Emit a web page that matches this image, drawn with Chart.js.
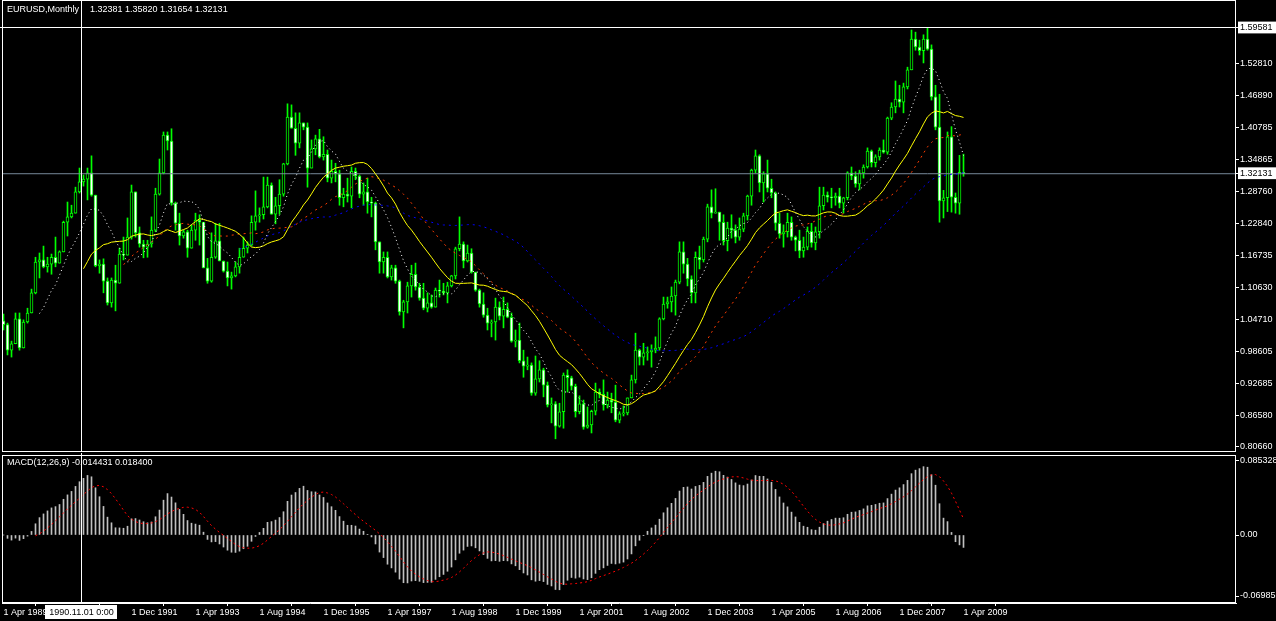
<!DOCTYPE html>
<html>
<head>
<meta charset="utf-8">
<title>EURUSD, Monthly</title>
<script src="https://cdn.jsdelivr.net/npm/chart.js@4/dist/chart.umd.min.js"></script>
<style>
  html, body { margin: 0; padding: 0; background: #000; }
  #wrap { position: relative; width: 1276px; height: 621px; overflow: hidden; background: #000; }
  #mainChart { position: absolute; left: 0; top: 0; }
  #macdChart { position: absolute; left: 0; top: 453px; }
  .txt { position: absolute; color: #fff; font: 9px 'Liberation Sans', Arial, sans-serif; line-height: 11px; white-space: pre; }
</style>
</head>
<body>
<div id="wrap">
  <canvas id="mainChart" width="1276" height="453"></canvas>
  <canvas id="macdChart" width="1276" height="168"></canvas>
  <div class="txt" style="left:7px;top:4px">EURUSD,Monthly</div>
  <div class="txt" style="left:90px;top:4px">1.32381 1.35820 1.31654 1.32131</div>
  <div class="txt" style="left:7px;top:457px">MACD(12,26,9) -0.014431 0.018400</div>
</div>

<script>
/* ---- DATA (monthly bars, 1 Apr 1989 .. 1 Apr 2009) ---- */
const open = [
  1.044,1.037,0.989,1.001,1.048,0.993,1.042,1.059,1.097,1.155,
  1.159,1.146,1.151,1.164,1.153,1.174,1.230,1.240,1.247,1.287,
  1.306,1.311,1.323,1.281,1.148,1.151,1.119,1.078,1.121,1.115,
  1.170,1.168,1.202,1.287,1.210,1.189,1.183,1.189,1.215,1.283,
  1.323,1.394,1.383,1.266,1.228,1.204,1.212,1.181,1.215,1.234,
  1.230,1.144,1.119,1.164,1.195,1.157,1.138,1.125,1.129,1.146,
  1.164,1.181,1.187,1.230,1.242,1.244,1.259,1.300,1.245,1.261,
  1.283,1.340,1.428,1.407,1.379,1.417,1.409,1.332,1.368,1.387,
  1.353,1.358,1.313,1.326,1.321,1.276,1.283,1.279,1.326,1.317,
  1.283,1.287,1.268,1.266,1.193,1.155,1.164,1.127,1.144,1.119,
  1.061,1.080,1.110,1.132,1.108,1.087,1.068,1.078,1.070,1.102,
  1.100,1.097,1.110,1.129,1.180,1.189,1.157,1.172,1.136,1.102,
  1.076,1.055,1.040,1.042,1.070,1.053,1.066,1.051,1.006,1.008,
  0.969,0.959,0.961,0.908,0.935,0.952,0.923,0.886,0.888,0.846,
  0.873,0.942,0.937,0.921,0.873,0.888,0.844,0.848,0.874,0.910,
  0.906,0.886,0.895,0.891,0.857,0.869,0.871,0.899,0.933,0.989,
  0.976,0.984,0.986,0.989,0.993,1.048,1.076,1.080,1.091,1.117,
  1.174,1.151,1.123,1.097,1.164,1.159,1.198,1.259,1.247,1.249,
  1.230,1.195,1.219,1.215,1.202,1.217,1.242,1.279,1.328,1.355,
  1.304,1.321,1.294,1.285,1.228,1.208,1.212,1.230,1.202,1.196,
  1.176,1.183,1.213,1.191,1.212,1.261,1.281,1.277,1.276,1.279,
  1.266,1.276,1.323,1.317,1.302,1.323,1.334,1.364,1.342,1.353,
  1.366,1.362,1.426,1.447,1.462,1.456,1.485,1.517,1.575,1.560,
  1.553,1.575,1.556,1.466,1.409,1.270,1.276,1.391,1.277,1.266,
  1.32381
];
const high = [
  1.057,1.040,1.006,1.059,1.059,1.046,1.068,1.104,1.164,1.172,
  1.185,1.164,1.170,1.202,1.176,1.232,1.268,1.262,1.296,1.332,
  1.319,1.332,1.355,1.281,1.159,1.161,1.125,1.125,1.149,1.181,
  1.202,1.238,1.300,1.287,1.221,1.196,1.196,1.240,1.294,1.349,
  1.400,1.400,1.406,1.268,1.247,1.215,1.215,1.225,1.247,1.244,
  1.230,1.162,1.210,1.228,1.228,1.157,1.155,1.136,1.155,1.181,
  1.202,1.193,1.242,1.289,1.257,1.315,1.315,1.304,1.277,1.310,
  1.341,1.453,1.451,1.436,1.436,1.417,1.417,1.385,1.394,1.405,
  1.391,1.366,1.347,1.341,1.328,1.294,1.313,1.334,1.332,1.319,
  1.304,1.313,1.277,1.268,1.193,1.174,1.174,1.149,1.149,1.121,
  1.083,1.117,1.149,1.153,1.115,1.115,1.097,1.093,1.106,1.121,
  1.115,1.117,1.130,1.183,1.240,1.193,1.187,1.180,1.136,1.104,
  1.097,1.068,1.046,1.087,1.080,1.089,1.078,1.059,1.027,1.040,
  0.989,0.976,0.965,0.978,0.969,0.955,0.929,0.899,0.892,0.889,
  0.946,0.952,0.940,0.925,0.903,0.895,0.882,0.876,0.927,0.916,
  0.933,0.910,0.908,0.923,0.873,0.884,0.899,0.942,1.021,0.991,
  1.002,0.995,0.999,1.014,1.050,1.089,1.089,1.108,1.121,1.193,
  1.193,1.162,1.129,1.174,1.185,1.202,1.264,1.291,1.293,1.247,
  1.244,1.230,1.244,1.225,1.238,1.247,1.281,1.330,1.366,1.357,
  1.325,1.347,1.311,1.287,1.247,1.225,1.247,1.240,1.204,1.215,
  1.202,1.221,1.228,1.221,1.296,1.296,1.287,1.294,1.285,1.294,
  1.277,1.325,1.334,1.325,1.328,1.338,1.370,1.366,1.357,1.370,
  1.385,1.428,1.455,1.496,1.488,1.492,1.522,1.592,1.588,1.573,
  1.583,1.59581,1.564,1.488,1.471,1.290,1.400,1.410,1.285,1.356,
  1.35820
];
const low = [
  1.027,0.980,0.976,1.002,0.989,0.993,1.040,1.059,1.095,1.125,
  1.144,1.136,1.132,1.146,1.153,1.174,1.204,1.238,1.249,1.285,
  1.298,1.272,1.279,1.146,1.134,1.097,1.074,1.070,1.063,1.115,
  1.159,1.168,1.198,1.202,1.183,1.163,1.164,1.183,1.212,1.281,
  1.321,1.366,1.262,1.215,1.187,1.200,1.164,1.181,1.196,1.187,
  1.144,1.115,1.117,1.162,1.157,1.136,1.110,1.104,1.127,1.134,
  1.164,1.172,1.185,1.215,1.230,1.236,1.257,1.245,1.227,1.245,
  1.279,1.338,1.407,1.356,1.370,1.404,1.296,1.332,1.357,1.351,
  1.347,1.306,1.304,1.306,1.262,1.259,1.268,1.257,1.310,1.276,
  1.262,1.247,1.240,1.178,1.134,1.134,1.125,1.121,1.115,1.055,
  1.031,1.059,1.089,1.102,1.083,1.065,1.061,1.068,1.070,1.089,
  1.093,1.078,1.108,1.123,1.176,1.144,1.155,1.134,1.100,1.070,
  1.051,1.027,1.014,1.008,1.046,1.031,1.050,1.004,0.995,0.965,
  0.938,0.952,0.904,0.904,0.929,0.901,0.882,0.852,0.822,0.844,
  0.842,0.910,0.914,0.863,0.869,0.840,0.842,0.833,0.867,0.899,
  0.876,0.880,0.871,0.854,0.852,0.865,0.867,0.899,0.927,0.961,
  0.961,0.970,0.957,0.984,0.989,1.046,1.068,1.061,1.055,1.114,
  1.134,1.110,1.078,1.078,1.142,1.155,1.193,1.238,1.247,1.196,
  1.187,1.176,1.200,1.191,1.196,1.212,1.234,1.262,1.323,1.287,
  1.268,1.287,1.276,1.215,1.200,1.183,1.202,1.196,1.176,1.163,
  1.164,1.178,1.183,1.178,1.200,1.253,1.268,1.257,1.262,1.257,
  1.247,1.272,1.310,1.296,1.291,1.313,1.332,1.334,1.334,1.347,
  1.360,1.358,1.423,1.436,1.447,1.436,1.481,1.517,1.554,1.545,
  1.530,1.554,1.460,1.404,1.230,1.238,1.250,1.249,1.247,1.245,
  1.31654
];
const close = [
  1.037,0.989,1.001,1.048,0.993,1.042,1.059,1.097,1.155,1.159,
  1.146,1.151,1.164,1.153,1.174,1.230,1.240,1.247,1.287,1.306,
  1.311,1.323,1.281,1.148,1.151,1.119,1.078,1.121,1.115,1.170,
  1.168,1.202,1.287,1.210,1.189,1.183,1.189,1.215,1.283,1.323,
  1.394,1.383,1.266,1.228,1.204,1.212,1.181,1.215,1.234,1.230,
  1.144,1.119,1.164,1.195,1.157,1.138,1.125,1.129,1.146,1.164,
  1.181,1.187,1.230,1.242,1.244,1.259,1.300,1.245,1.261,1.283,
  1.340,1.428,1.407,1.379,1.417,1.409,1.332,1.368,1.387,1.353,
  1.358,1.313,1.326,1.321,1.276,1.283,1.279,1.326,1.317,1.283,
  1.287,1.268,1.266,1.193,1.155,1.164,1.127,1.144,1.119,1.061,
  1.080,1.110,1.132,1.108,1.087,1.068,1.078,1.070,1.102,1.100,
  1.097,1.110,1.129,1.180,1.189,1.157,1.172,1.136,1.102,1.076,
  1.055,1.040,1.042,1.070,1.053,1.066,1.051,1.006,1.008,0.969,
  0.959,0.961,0.908,0.935,0.952,0.923,0.886,0.888,0.846,0.873,
  0.942,0.937,0.921,0.873,0.888,0.844,0.848,0.874,0.910,0.906,
  0.886,0.895,0.891,0.857,0.869,0.871,0.899,0.933,0.989,0.976,
  0.984,0.986,0.989,0.993,1.048,1.076,1.080,1.091,1.117,1.174,
  1.151,1.123,1.097,1.164,1.159,1.198,1.259,1.247,1.249,1.230,
  1.195,1.219,1.215,1.202,1.217,1.242,1.279,1.328,1.355,1.304,
  1.321,1.294,1.285,1.228,1.208,1.212,1.230,1.202,1.196,1.176,
  1.183,1.213,1.191,1.212,1.261,1.281,1.277,1.276,1.279,1.266,
  1.276,1.323,1.317,1.302,1.323,1.334,1.364,1.342,1.353,1.366,
  1.362,1.426,1.447,1.462,1.456,1.485,1.517,1.575,1.560,1.553,
  1.575,1.556,1.466,1.409,1.270,1.276,1.391,1.277,1.266,1.324,
  1.32131
];

// moving averages on the price pane (period, colour, dash)
const maPeriods = [10, 21, 31, 60];
const maColors  = ['#ffffff', '#ffff00', '#ff3c00', '#0000ff'];
const maDashes  = [[1, 3], [], [2, 4], [2, 4]];

// MACD(12,26,9)
const macdFast = 12, macdSlow = 26, macdSignal = 9;

// axis ticks
const priceTicks = [1.59581, 1.52810, 1.46890, 1.40785, 1.34865, 1.32131, 1.28760,
                    1.22840, 1.16735, 1.10630, 1.04710, 0.98605, 0.92685, 0.86580, 0.80660];
const markedPrices = [1.59581, 1.32131];
const macdTicks = [0.085328, 0, -0.06985];
const macdTickLabels = ['0.085328', '0.00', '-0.06985'];
const timeTickIdx = [0, 16, 32, 48, 64, 80, 96, 112, 128, 144, 160, 176, 192, 208, 224, 240];
const timeTickLabels = ['1 Apr 1989', '1 Aug 1990', '1 Dec 1991', '1 Apr 1993', '1 Aug 1994',
  '1 Dec 1995', '1 Apr 1997', '1 Aug 1998', '1 Dec 1999', '1 Apr 2001', '1 Aug 2002',
  '1 Dec 2003', '1 Apr 2005', '1 Aug 2006', '1 Dec 2007', '1 Apr 2009'];

// crosshair
const crossIdx = 19.5;
const crossPrice = 1.59581;
const crossLabel = '1990.11.01 0:00';

/* ---- helpers ---- */
function sma(src, n) {
  const out = [];
  for (let i = n - 1; i < src.length; i++) {
    let s = 0;
    for (let k = i - n + 1; k <= i; k++) s += src[k];
    out.push({ x: i, y: s / n });
  }
  return out;
}
function ema(src, n) {
  const a = 2 / (n + 1);
  const out = [src[0]];
  for (let i = 1; i < src.length; i++) out.push(out[i - 1] + a * (src[i] - out[i - 1]));
  return out;
}

const X_MIN = -0.375, X_MAX = 308.125;
const FONT = { family: "'Liberation Sans', Arial, sans-serif", size: 9 };
Chart.defaults.font = FONT;
Chart.defaults.color = '#fff';

const idx = close.map((_, i) => i);
const wicks = idx.map(i => ({ x: i, y: [Math.min(low[i], open[i], close[i]), Math.max(high[i], open[i], close[i])] }));
const bodies = idx.map(i => ({ x: i, y: [open[i], close[i]] }));

const emaF = ema(close, macdFast), emaS = ema(close, macdSlow);
const macdMain = idx.map(i => emaF[i] - emaS[i]);
const macdBars = idx.map(i => ({ x: i, y: macdMain[i] }));
const macdSig = sma(macdMain, macdSignal);

/* ---- frame + crosshair ---- */
const paneDeco = {
  id: 'paneDeco',
  afterDraw(chart, args, opts) {
    const { ctx, chartArea: a } = chart;
    const cx = Math.floor(chart.scales.x.getPixelForValue(crossIdx)) + 0.5;
    ctx.save();
    ctx.strokeStyle = '#fff';
    ctx.lineWidth = 1;
    ctx.strokeRect(a.left + 0.5, a.top + 0.5, a.right - a.left - 1, a.bottom - a.top - 1);
    ctx.beginPath();
    ctx.moveTo(cx, 0);
    ctx.lineTo(cx, a.bottom);
    if (opts.price) {
      const cy = Math.floor(chart.scales.y.getPixelForValue(crossPrice)) + 0.5;
      ctx.moveTo(0, cy);
      ctx.lineTo(a.right, cy);
    }
    ctx.stroke();
    if (opts.dateBox) {
      ctx.font = "9px 'Liberation Sans', Arial, sans-serif";
      const w = ctx.measureText(crossLabel).width + 8;
      ctx.fillStyle = '#fff';
      ctx.fillRect(Math.round(cx - w / 2), a.bottom + 2, Math.round(w), 14);
      ctx.fillStyle = '#000';
      ctx.textAlign = 'center';
      ctx.textBaseline = 'middle';
      ctx.fillText(crossLabel, cx, a.bottom + 9.5);
    }
    ctx.restore();
  }
};

function fixY(scale) {
  scale.width = 40;
  scale.paddingTop = 0;
  scale.paddingBottom = 0;
}

/* ---- price pane ---- */
const maSets = maPeriods.map((p, k) => ({
  type: 'line',
  data: sma(close, p),
  borderColor: maColors[k],
  borderWidth: 1,
  borderDash: maDashes[k],
  pointRadius: 0,
  tension: 0,
  order: 1 + k
}));

new Chart(document.getElementById('mainChart'), {
  type: 'bar',
  data: {
    datasets: [
      { data: wicks, backgroundColor: '#00ff00', barThickness: 1, grouped: false, order: 10 },
      {
        data: bodies,
        backgroundColor: c => (c.raw && c.raw.y[1] >= c.raw.y[0]) ? '#000000' : '#ffffff',
        borderColor: '#00ff00', borderWidth: 1, borderSkipped: false,
        barThickness: 3, minBarLength: 1, grouped: false, order: 9
      },
      {
        type: 'line',
        data: [{ x: X_MIN, y: close[close.length - 1] }, { x: X_MAX, y: close[close.length - 1] }],
        borderColor: '#778899', borderWidth: 1, pointRadius: 0, order: 8
      },
      ...maSets
    ]
  },
  options: {
    responsive: false,
    devicePixelRatio: 1,
    animation: false,
    events: [],
    layout: { padding: { left: 2, top: 0, right: 0, bottom: 1 } },
    plugins: { legend: { display: false }, tooltip: { enabled: false }, paneDeco: { price: true } },
    scales: {
      x: { type: 'linear', min: X_MIN, max: X_MAX, offset: false, display: false },
      y: {
        type: 'linear', position: 'right', min: 0.79716, max: 1.64855,
        afterBuildTicks: s => { s.ticks = priceTicks.map(v => ({ value: v })); },
        afterFit: fixY,
        grid: { drawOnChartArea: false, tickLength: 3, color: '#fff' },
        border: { display: false },
        ticks: {
          autoSkip: false, padding: 1, font: FONT,
          callback: v => v.toFixed(5),
          color: c => markedPrices.includes(c.tick.value) ? '#000' : '#fff',
          showLabelBackdrop: c => markedPrices.includes(c.tick.value),
          backdropColor: '#fff',
          backdropPadding: { top: 1, bottom: 0, left: 2, right: 6 }
        }
      }
    }
  },
  plugins: [paneDeco]
});

/* ---- MACD pane ---- */
new Chart(document.getElementById('macdChart'), {
  type: 'bar',
  data: {
    datasets: [
      { data: macdBars, backgroundColor: '#c0c0c0', barThickness: 1, grouped: false, order: 2 },
      {
        type: 'line', data: macdSig, borderColor: '#ff0000', borderWidth: 1,
        borderDash: [2, 3], pointRadius: 0, tension: 0, order: 1
      }
    ]
  },
  options: {
    responsive: false,
    devicePixelRatio: 1,
    animation: false,
    events: [],
    layout: { padding: { left: 2, top: 2, right: 0, bottom: 0 } },
    plugins: { legend: { display: false }, tooltip: { enabled: false }, paneDeco: { dateBox: true } },
    scales: {
      x: {
        type: 'linear', min: X_MIN, max: X_MAX, offset: false, position: 'bottom',
        afterBuildTicks: s => { s.ticks = timeTickIdx.map(v => ({ value: v })); },
        afterFit: s => { s.height = 18; s.paddingLeft = 0; s.paddingRight = 0; },
        grid: { drawOnChartArea: false, tickLength: 3, color: '#fff' },
        border: { display: true, color: '#fff' },
        ticks: {
          autoSkip: false, maxRotation: 0, align: 'start', padding: 1, font: FONT, color: '#fff',
          callback: (v, i) => timeTickLabels[i]
        }
      },
      y: {
        type: 'linear', position: 'right', min: -0.07786, max: 0.0916,
        afterBuildTicks: s => { s.ticks = macdTicks.map(v => ({ value: v })); },
        afterFit: fixY,
        grid: { drawOnChartArea: false, tickLength: 3, color: '#fff' },
        border: { display: false },
        ticks: { autoSkip: false, padding: 1, font: FONT, color: '#fff', callback: (v, i) => macdTickLabels[i] }
      }
    }
  },
  plugins: [paneDeco]
});
</script>
</body>
</html>
